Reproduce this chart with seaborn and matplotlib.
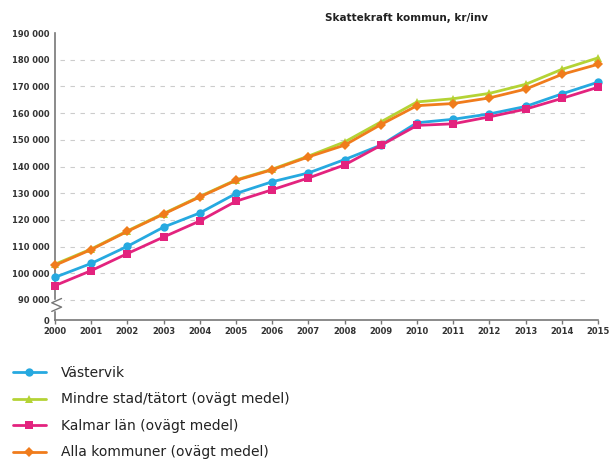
import numpy as np
import pandas as pd
import matplotlib
matplotlib.use("Agg")
import matplotlib.pyplot as plt
import seaborn as sns

# Data
years = list(range(2000, 2016))
vastervik = [98500, 103700, 110100, 117300, 122600, 129900, 134300, 137600,
             142600, 148000, 156400, 157700, 159700, 162500, 167200, 171600]
mindre = [103400, 109100, 115900, 122400, 128800, 135000, 139000, 143900,
          149200, 156700, 164200, 165400, 167400, 170800, 176400, 180700]
kalmar = [95400, 101000, 107400, 113600, 119600, 127000, 131300, 135700,
          140600, 147900, 155400, 156000, 158600, 161500, 165500, 169700]
alla = [103000, 108900, 115700, 122200, 128600, 134800, 138800, 143600,
        148000, 155700, 162800, 163600, 165700, 169000, 174500, 178300]

series = ["Västervik", "Mindre stad/tätort (ovägt medel)",
          "Kalmar län (ovägt medel)", "Alla kommuner (ovägt medel)"]
values = [vastervik, mindre, kalmar, alla]
colors = ["#26a9e0", "#b4d335", "#e3237e", "#f07c1c"]
markers = ["o", "^", "s", "D"]

y_ticks = list(range(90000, 190001, 10000))
y_labels = [f"{v // 1000} 000" for v in y_ticks]

df = pd.DataFrame({
    "year": np.tile(years, len(series)),
    "value": np.concatenate(values),
    "serie": np.repeat(series, len(years)),
})

sns.set_style("white")
plt.rcParams["font.family"] = ["DejaVu Sans"]

fig = plt.figure(figsize=(6.14, 4.59), dpi=100)
ax = fig.add_axes([0.0896, 0.3028, 0.8844, 0.6252])

# draw order: green behind orange
order = [1, 3, 0, 2]
for i in order:
    sub = df[df["serie"] == series[i]]
    sns.lineplot(data=sub, x="year", y="value", color=colors[i],
                 marker=markers[i], markersize=6 if markers[i] != "D" else 5.5,
                 markeredgewidth=0, linewidth=2, ax=ax, label=series[i],
                 clip_on=False, zorder=3 + i)

ymin = 82500
ax.set_xlim(2000, 2015)
ax.set_ylim(ymin, 190000)
ax.set_xticks(years)
ax.set_xticklabels([str(y) for y in years], fontsize=6, fontweight="bold",
                   color="#333333")
ax.set_yticks([ymin] + y_ticks)
ax.set_yticklabels(["0"] + y_labels, fontsize=6, fontweight="bold",
                   color="#333333")
ax.set_xlabel("")
ax.set_ylabel("")

for v in y_ticks[:-1]:
    ax.axhline(v, xmin=0.01, xmax=0.985, color="#cccccc", linestyle=(0, (4, 5)),
               linewidth=0.8, zorder=1)

for s in ["top", "right"]:
    ax.spines[s].set_visible(False)
for s in ["left", "bottom"]:
    ax.spines[s].set_color("#777777")
    ax.spines[s].set_linewidth(1.2)
ax.tick_params(axis="x", length=3, width=1, color="#777777", pad=2, direction="out", bottom=True)
ax.tick_params(axis="y", length=0, pad=4, left=False)

# axis break mark on the left spine
bx = [-0.006, 0.012, -0.006, 0.012]
by = [0.03, 0.045, 0.06, 0.075]
ax.fill_between([-0.01, 0.015], 0.035, 0.07, color="white", transform=ax.transAxes,
                clip_on=False, zorder=5)
ax.plot(bx, by, color="#777777", linewidth=1, transform=ax.transAxes,
        clip_on=False, zorder=6)

ax.legend_.remove()
fig.text(0.53, 0.955, "Skattekraft kommun, kr/inv", fontsize=7.5,
         fontweight="bold", color="#222222")

handles, labels = ax.get_legend_handles_labels()
lab_idx = [labels.index(s) for s in series]
fig.legend([handles[i] for i in lab_idx], [labels[i] for i in lab_idx],
           loc="upper left", bbox_to_anchor=(0.0, 0.23), frameon=False,
           fontsize=10, labelspacing=0.9, handlelength=2.4, handletextpad=1.1,
           labelcolor="#222222")

fig.savefig("out.png", dpi=100)
